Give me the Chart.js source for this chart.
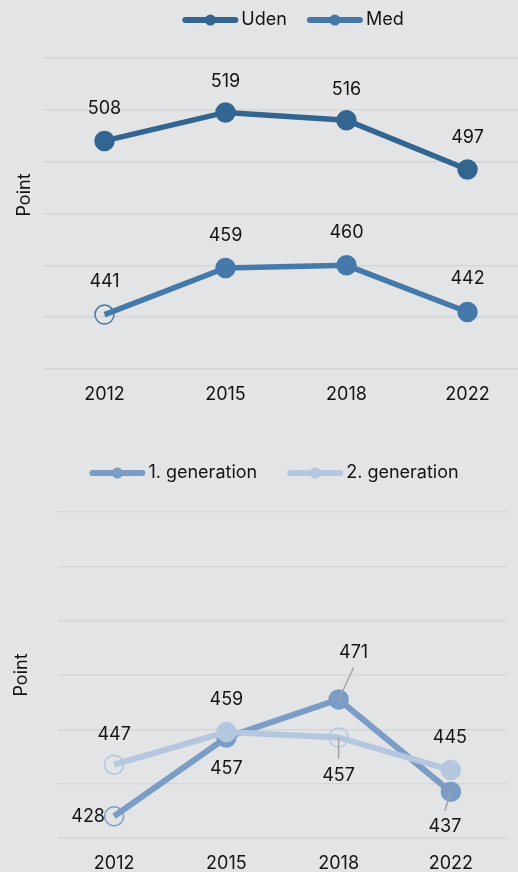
<!DOCTYPE html>
<html><head><meta charset="utf-8">
<script src="https://cdn.jsdelivr.net/npm/chart.js@4.4.1/dist/chart.umd.min.js"></script>
<style>
html,body{margin:0;padding:0;background:#e3e4e6;width:518px;height:872px;overflow:hidden;position:relative;}
#c1{position:absolute;left:0;top:0;}
#c2{position:absolute;left:0;top:420px;}
</style></head><body>
<canvas id="c1" width="540" height="420"></canvas>
<canvas id="c2" width="518" height="460"></canvas>
<script>
// ---- data ----
const years = ['2012', '2015', '2018', '2022'];
const uden = [508, 519, 516, 497];
const med = [441, 459, 460, 442];
const gen1 = [428, 457, 471, 437];
const gen2 = [447, 459, 457, 445];
// open (hollow) markers
const medOpen = [true, false, false, false];
const gen1Open = [true, false, false, false];
const gen2Open = [true, false, true, false];
const yMin = 420, yMax = 540, yStep = 20;

// ---- styles ----
const FONT = 'Inter, "Noto Sans", sans-serif';
const TXT = '#141414';
const GRID = '#d5d6d8';
const C_UDEN = '#336591', C_MED = '#4479aa', C_G1 = '#7b9cc4', C_G2 = '#b5c7de';
const FS = 18;

const place1 = {
  uden: [{dx:0,dy:-32},{dx:0,dy:-31},{dx:0,dy:-31},{dx:0,dy:-32}],
  med:  [{dx:0,dy:-33},{dx:0,dy:-32},{dx:0,dy:-33},{dx:0,dy:-33}]
};
const place2 = {
  gen1: [{dx:-26,dy:0},{dx:0,dy:31},{dx:15,dy:-47,lx:15,ly:-32},{dx:-6,dy:35,lx:-6,ly:19}],
  gen2: [{dx:0,dy:-30},{dx:0,dy:-32},{dx:0,dy:38,lx:0,ly:21},{dx:-1,dy:-32}]
};

function ds(label, data, color, open, lw, place, order) {
  return {
    label, data, order,
    borderColor: color, backgroundColor: color,
    borderWidth: lw, tension: 0,
    pointRadius: 9.5, pointHoverRadius: 9.5,
    pointBorderWidth: 1.5, pointBorderColor: color,
    pointBackgroundColor: open ? open.map(o => o ? 'rgba(0,0,0,0)' : color) : color,
    clip: false,
    place
  };
}

const labelPlugin = {
  id: 'valLabels',
  afterDatasetsDraw(chart) {
    const ctx = chart.ctx;
    ctx.save();
    chart.data.datasets.forEach((d, i) => {
      const meta = chart.getDatasetMeta(i);
      meta.data.forEach((pt, j) => {
        const p = d.place[j];
        if (p.lx !== undefined) {
          ctx.strokeStyle = '#a3a3a3';
          ctx.lineWidth = 1.5;
          ctx.beginPath();
          ctx.moveTo(pt.x, pt.y);
          ctx.lineTo(pt.x + p.lx, pt.y + p.ly);
          ctx.stroke();
        }
        ctx.fillStyle = TXT;
        ctx.font = FS + 'px ' + FONT;
        ctx.textAlign = 'center';
        ctx.textBaseline = 'middle';
        ctx.fillText(String(d.data[j]), pt.x + p.dx, pt.y + p.dy);
      });
    });
    ctx.restore();
  }
};

const sidePlugin = {
  id: 'side',
  afterDraw(chart, args, o) {
    const ctx = chart.ctx;
    ctx.save();
    // y title
    ctx.translate(o.tx, o.ty);
    ctx.rotate(-Math.PI / 2);
    ctx.fillStyle = TXT;
    ctx.font = FS + 'px ' + FONT;
    ctx.textAlign = 'center';
    ctx.textBaseline = 'middle';
    ctx.fillText(o.title, 0, 0);
    ctx.restore();
    // legend
    ctx.save();
    ctx.font = FS + 'px ' + FONT;
    const items = chart.data.datasets.map(d => ({label: d.label, color: d.borderColor}));
    const widths = items.map(it => 59 + ctx.measureText(it.label).width);
    const total = widths.reduce((a, b) => a + b, 0) + o.gap * (items.length - 1);
    let x = o.cx - total / 2;
    items.forEach((it, k) => {
      ctx.strokeStyle = it.color;
      ctx.lineWidth = 6;
      ctx.lineCap = 'round';
      ctx.beginPath();
      ctx.moveTo(x + 3, o.ly);
      ctx.lineTo(x + 53, o.ly);
      ctx.stroke();
      ctx.fillStyle = it.color;
      ctx.beginPath();
      ctx.arc(x + 28, o.ly, 5.5, 0, Math.PI * 2);
      ctx.fill();
      ctx.fillStyle = TXT;
      ctx.textAlign = 'left';
      ctx.textBaseline = 'middle';
      ctx.fillText(it.label, x + 59, o.ly);
      x += widths[k] + o.gap;
    });
    ctx.restore();
  }
};

function makeOptions(pad, xH, side) {
  return {
    responsive: false,
    animation: false,
    devicePixelRatio: 1,
    layout: { padding: pad },
    plugins: { legend: { display: false }, tooltip: { enabled: false }, side },
    scales: {
      x: {
        type: 'category', offset: true,
        grid: { display: false }, border: { display: false },
        ticks: { color: TXT, font: { family: FONT, size: FS }, padding: 7 },
        afterFit: s => { s.height = xH; }
      },
      y: {
        min: yMin, max: yMax,
        grid: { color: GRID, lineWidth: 1.5, drawTicks: false },
        border: { display: false },
        ticks: { display: false, stepSize: yStep },
        afterFit: s => { s.width = 0; }
      }
    }
  };
}

new Chart(document.getElementById('c1'), {
  type: 'line',
  data: {
    labels: years,
    datasets: [
      ds('Uden', uden, C_UDEN, null, 5.5, place1.uden, 0),
      ds('Med', med, C_MED, medOpen, 5.5, place1.med, 1)
    ]
  },
  options: makeOptions({left: 44, right: 12, top: 58, bottom: 0}, 51,
    {title: 'Point', tx: 25, ty: 195, cx: 293, ly: 20, gap: 20}),
  plugins: [labelPlugin, sidePlugin]
});

new Chart(document.getElementById('c2'), {
  type: 'line',
  data: {
    labels: years,
    datasets: [
      ds('1. generation', gen1, C_G1, gen1Open, 6, place2.gen1, 1),
      ds('2. generation', gen2, C_G2, gen2Open, 6, place2.gen2, 0)
    ]
  },
  options: makeOptions({left: 58, right: 2, top: 92, bottom: 0}, 42,
    {title: 'Point', tx: 22, ty: 255, cx: 274, ly: 53, gap: 30}),
  plugins: [labelPlugin, sidePlugin]
});
</script>
</body></html>
